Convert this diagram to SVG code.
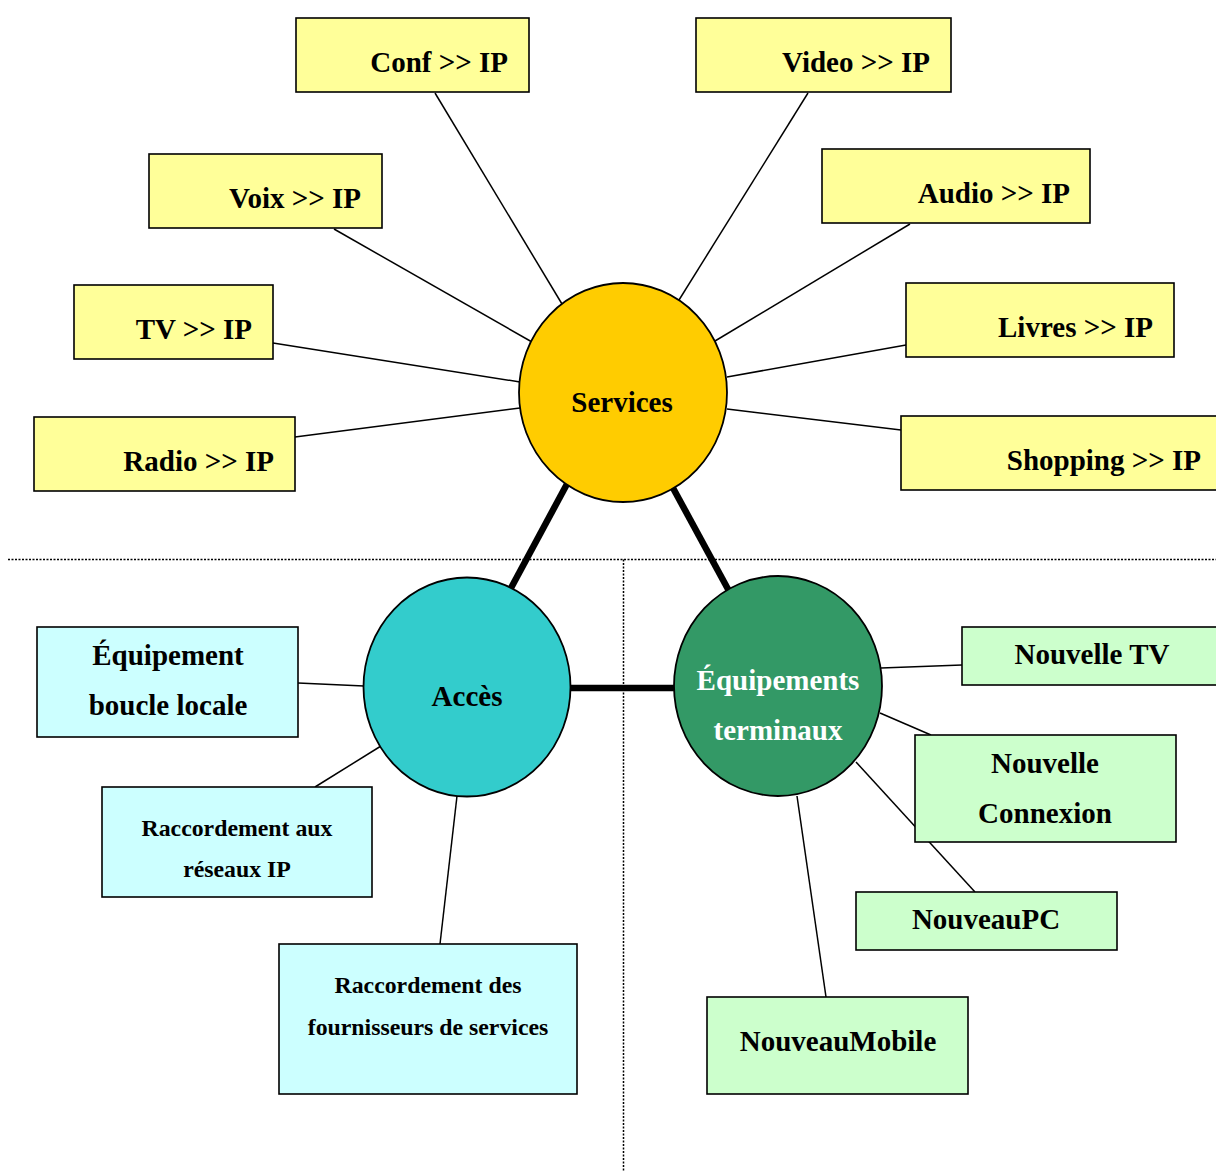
<svg xmlns="http://www.w3.org/2000/svg" width="1216" height="1171" viewBox="0 0 1216 1171">
  <style>
    text { font-family: "Liberation Serif", "Times New Roman", serif; font-weight: bold; fill: #000; }
    .big { font-size: 29px; }
    .small { font-size: 23.8px; }
    .mid { text-anchor: middle; }
    .end { text-anchor: end; }
    .box { stroke: #000; stroke-width: 1.6; }
    .yellow { fill: #FFFF99; }
    .cyan { fill: #CCFFFF; }
    .green { fill: #CCFFCC; }
    .hub { stroke: #000; stroke-width: 1.8; }
    .thin { stroke: #000; stroke-width: 1.5; fill: none; }
    .thick { stroke: #000; stroke-width: 6.5; fill: none; }
    .dots { stroke: #000; stroke-width: 1.5; stroke-dasharray: 2 1.5; fill: none; }
  </style>

  <rect width="1216" height="1171" fill="#fff"/>

  <!-- section separators -->
  <g id="separators">
    <line class="dots" x1="8" y1="559.5" x2="1216" y2="559.5"/>
    <line class="dots" x1="623.5" y1="559.5" x2="623.5" y2="1171"/>
  </g>

  <!-- connectors -->
  <g id="connectors">
    <!-- Services spokes -->
    <line class="thin" x1="435" y1="93" x2="562" y2="304"/>
    <line class="thin" x1="808" y1="93" x2="679" y2="300"/>
    <line class="thin" x1="334" y1="229" x2="532" y2="342"/>
    <line class="thin" x1="910" y1="224" x2="715" y2="341"/>
    <line class="thin" x1="273" y1="343" x2="520" y2="382"/>
    <line class="thin" x1="906" y1="345" x2="727" y2="377"/>
    <line class="thin" x1="295" y1="437" x2="520" y2="408"/>
    <line class="thin" x1="901" y1="430" x2="727" y2="409"/>
    <!-- Accès spokes -->
    <line class="thin" x1="298" y1="683" x2="364" y2="686"/>
    <line class="thin" x1="315" y1="787" x2="381" y2="746"/>
    <line class="thin" x1="440" y1="944" x2="457" y2="796"/>
    <!-- Équipements spokes -->
    <line class="thin" x1="881" y1="668" x2="962" y2="665"/>
    <line class="thin" x1="880" y1="713" x2="931" y2="735"/>
    <line class="thin" x1="856" y1="762" x2="975" y2="892"/>
    <line class="thin" x1="797" y1="796" x2="826" y2="997"/>
    <!-- triangle between hubs -->
    <line class="thick" x1="567" y1="484" x2="511" y2="588"/>
    <line class="thick" x1="673" y1="488" x2="729" y2="591"/>
    <line class="thick" x1="568" y1="688" x2="677" y2="688"/>
  </g>

  <!-- hubs -->
  <g id="services">
    <ellipse class="hub" cx="623" cy="392.5" rx="104" ry="109.5" fill="#FFCC00"/>
    <text class="big mid" x="622" y="412">Services</text>
  </g>
  <g id="acces">
    <ellipse class="hub" cx="467" cy="687" rx="103.5" ry="109.5" fill="#33CCCC"/>
    <text class="big mid" x="467" y="706">Accès</text>
  </g>
  <g id="equipements">
    <ellipse class="hub" cx="778" cy="686" rx="104" ry="110" fill="#339966"/>
    <text class="big mid" x="778" y="690" style="fill:#fff">Équipements</text>
    <text class="big mid" x="778" y="740" style="fill:#fff">terminaux</text>
  </g>

  <!-- service boxes -->
  <g id="conf">
    <rect class="box yellow" x="296" y="18" width="233" height="74"/>
    <text class="big end" x="508" y="72">Conf &gt;&gt; IP</text>
  </g>
  <g id="video">
    <rect class="box yellow" x="696" y="18" width="255" height="74"/>
    <text class="big end" x="930" y="72">Video &gt;&gt; IP</text>
  </g>
  <g id="voix">
    <rect class="box yellow" x="149" y="154" width="233" height="74"/>
    <text class="big end" x="361" y="208">Voix &gt;&gt; IP</text>
  </g>
  <g id="audio">
    <rect class="box yellow" x="822" y="149" width="268" height="74"/>
    <text class="big end" x="1070" y="203">Audio &gt;&gt; IP</text>
  </g>
  <g id="tv">
    <rect class="box yellow" x="74" y="285" width="199" height="74"/>
    <text class="big end" x="252" y="339">TV &gt;&gt; IP</text>
  </g>
  <g id="livres">
    <rect class="box yellow" x="906" y="283" width="268" height="74"/>
    <text class="big end" x="1153" y="337">Livres &gt;&gt; IP</text>
  </g>
  <g id="radio">
    <rect class="box yellow" x="34" y="417" width="261" height="74"/>
    <text class="big end" x="274" y="471">Radio &gt;&gt; IP</text>
  </g>
  <g id="shopping">
    <rect class="box yellow" x="901" y="416" width="330" height="74"/>
    <text class="big end" x="1201" y="470">Shopping &gt;&gt; IP</text>
  </g>

  <!-- access boxes -->
  <g id="boucle-locale">
    <rect class="box cyan" x="37" y="627" width="261" height="110"/>
    <text class="big mid" x="168" y="665">Équipement</text>
    <text class="big mid" x="168" y="715">boucle locale</text>
  </g>
  <g id="reseaux-ip">
    <rect class="box cyan" x="102" y="787" width="270" height="110"/>
    <text class="small mid" x="237" y="836">Raccordement aux</text>
    <text class="small mid" x="237" y="877">réseaux IP</text>
  </g>
  <g id="fournisseurs">
    <rect class="box cyan" x="279" y="944" width="298" height="150"/>
    <text class="small mid" x="428" y="993">Raccordement des</text>
    <text class="small mid" x="428" y="1035">fournisseurs de services</text>
  </g>

  <!-- terminal boxes -->
  <g id="nouvelle-tv">
    <rect class="box green" x="962" y="627" width="270" height="58"/>
    <text class="big mid" x="1092" y="664">Nouvelle TV</text>
  </g>
  <g id="nouvelle-connexion">
    <rect class="box green" x="915" y="735" width="261" height="107"/>
    <text class="big mid" x="1045" y="773">Nouvelle</text>
    <text class="big mid" x="1045" y="823">Connexion</text>
  </g>
  <g id="nouveau-pc">
    <rect class="box green" x="856" y="892" width="261" height="58"/>
    <text class="big mid" x="986" y="929">NouveauPC</text>
  </g>
  <g id="nouveau-mobile">
    <rect class="box green" x="707" y="997" width="261" height="97"/>
    <text class="big mid" x="838" y="1051">NouveauMobile</text>
  </g>
</svg>
